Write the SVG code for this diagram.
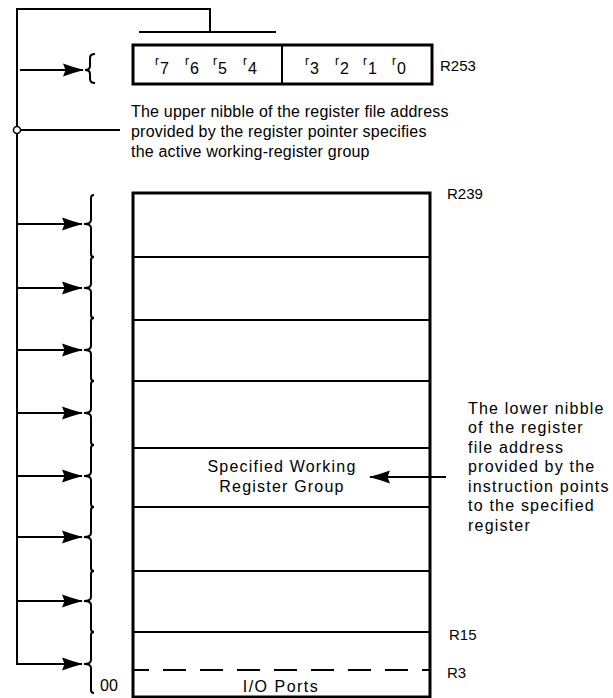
<svg xmlns="http://www.w3.org/2000/svg" width="613" height="698" viewBox="0 0 613 698">
<style>
.t{font-family:"Liberation Sans",Arial,sans-serif;font-size:16px;fill:#000}
.w{letter-spacing:1.2px}
.u{letter-spacing:0.2px}
.lb{font-family:"Liberation Sans",Arial,sans-serif;font-size:15px;fill:#000}
.s{font-family:"Liberation Sans",Arial,sans-serif;font-size:12px;fill:#000}
.ln{stroke:#000;stroke-width:2;fill:none}
.bx{stroke:#000;stroke-width:3;fill:#fff}
.br{stroke:#000;stroke-width:2;fill:none}
</style>
<defs>
<marker id="ah" markerUnits="userSpaceOnUse" markerWidth="24" markerHeight="16" viewBox="-22 -8 24 16" refX="0" refY="0" orient="auto">
<path d="M1,0 Q-9,-2.5 -20,-6.5 L-17.5,0 L-20,6.5 Q-9,2.5 1,0 Z" fill="#000"/>
</marker>
</defs>
<rect width="613" height="698" fill="#fff"/>

<g id="register-pointer">
<rect class="bx" x="133" y="45" width="299" height="39"/>
<line class="ln" x1="282" y1="45" x2="282" y2="84"/>
<text class="s" x="155" y="65">r</text><text class="t" x="160" y="74">7</text>
<text class="s" x="185" y="65">r</text><text class="t" x="190" y="74">6</text>
<text class="s" x="213" y="65">r</text><text class="t" x="218" y="74">5</text>
<text class="s" x="243" y="65">r</text><text class="t" x="248" y="74">4</text>
<text class="s" x="305" y="65">r</text><text class="t" x="310" y="74">3</text>
<text class="s" x="335" y="65">r</text><text class="t" x="340" y="74">2</text>
<text class="s" x="363" y="65">r</text><text class="t" x="368" y="74">1</text>
<text class="s" x="392" y="65">r</text><text class="t" x="397" y="74">0</text>
<text class="lb" x="440" y="71">R253</text>
</g>

<g id="top-brace">
<path class="br" d="M95,54 Q90,54 90,58 L90,66 Q90,70 85,70 Q90,70 90,74 L90,79 Q90,83 95,83" stroke-width="2.4"/>
</g>

<g id="upper-note">
<text class="t u" x="131" y="117">The upper nibble of the register file address</text>
<text class="t u" x="131" y="137">provided by the register pointer specifies</text>
<text class="t u" x="131" y="157">the active working-register group</text>
</g>

<g id="register-file">
<rect class="bx" x="133" y="193" width="297" height="504"/>
<line class="ln" x1="133" y1="257" x2="430" y2="257"/>
<line class="ln" x1="133" y1="320" x2="430" y2="320"/>
<line class="ln" x1="133" y1="381" x2="430" y2="381"/>
<line class="ln" x1="133" y1="448" x2="430" y2="448"/>
<line class="ln" x1="133" y1="507" x2="430" y2="507"/>
<line class="ln" x1="133" y1="571" x2="430" y2="571"/>
<line class="ln" x1="133" y1="632" x2="430" y2="632"/>
<line class="ln" x1="133" y1="670" x2="430" y2="670" stroke-dasharray="23 14" stroke-dashoffset="7"/>
<text class="t w" x="282" y="472" text-anchor="middle">Specified Working</text>
<text class="t w" x="282" y="492" text-anchor="middle">Register Group</text>
<text class="t" x="281" y="692" text-anchor="middle" style="letter-spacing:1.5px">I/O Ports</text>
<text class="t" x="100" y="691">00</text>
<text class="lb" x="447" y="199">R239</text>
<text class="lb" x="449" y="640">R15</text>
<text class="lb" x="447" y="678">R3</text>
</g>

<g id="brace-column">
<path class="br" d="M94,195 Q91,195 91,198 L91,220 Q91,224 84,224 Q91,224 91,228 L91,254 Q91,257 94,257"/>
<path class="br" d="M94,257 Q91,257 91,260 L91,284 Q91,288 84,288 Q91,288 91,292 L91,315 Q91,318 94,318"/>
<path class="br" d="M94,318 Q91,318 91,321 L91,346 Q91,350 84,350 Q91,350 91,354 L91,378 Q91,381 94,381"/>
<path class="br" d="M94,381 Q91,381 91,384 L91,409 Q91,413 84,413 Q91,413 91,417 L91,442 Q91,445 94,445"/>
<path class="br" d="M94,445 Q91,445 91,448 L91,472 Q91,476 84,476 Q91,476 91,480 L91,504 Q91,507 94,507"/>
<path class="br" d="M94,507 Q91,507 91,510 L91,533 Q91,537 84,537 Q91,537 91,541 L91,568 Q91,571 94,571"/>
<path class="br" d="M94,571 Q91,571 91,574 L91,597 Q91,601 84,601 Q91,601 91,605 L91,629 Q91,632 94,632"/>
<path class="br" d="M94,632 Q91,632 91,635 L91,660 Q91,664 84,664 Q91,664 91,668 L91,690 Q91,693 94,693"/>
</g>

<g id="lower-note">
<text class="t w" x="468" y="414">The lower nibble</text>
<text class="t w" x="468" y="433">of the register</text>
<text class="t w" x="468" y="453">file address</text>
<text class="t w" x="468" y="472">provided by the</text>
<text class="t w" x="468" y="492">instruction points</text>
<text class="t w" x="468" y="511">to the specified</text>
<text class="t w" x="468" y="531">register</text>
</g>

<g id="connectors">
<polyline class="ln" points="210,32 210,9 17,9 17,664 82,664" marker-end="url(#ah)"/>
<line class="ln" x1="139" y1="32" x2="276" y2="32"/>
<line class="ln" x1="20" y1="70" x2="83" y2="70" marker-end="url(#ah)"/>
<line class="ln" x1="21" y1="130" x2="120" y2="130"/>
<circle cx="17" cy="130" r="3.5" fill="#fff" stroke="#000" stroke-width="1.5"/>
<line class="ln" x1="17" y1="224" x2="82" y2="224" marker-end="url(#ah)"/>
<line class="ln" x1="17" y1="288" x2="82" y2="288" marker-end="url(#ah)"/>
<line class="ln" x1="17" y1="350" x2="82" y2="350" marker-end="url(#ah)"/>
<line class="ln" x1="17" y1="413" x2="82" y2="413" marker-end="url(#ah)"/>
<line class="ln" x1="17" y1="476" x2="82" y2="476" marker-end="url(#ah)"/>
<line class="ln" x1="17" y1="537" x2="82" y2="537" marker-end="url(#ah)"/>
<line class="ln" x1="17" y1="601" x2="82" y2="601" marker-end="url(#ah)"/>
<line class="ln" x1="446" y1="477" x2="370" y2="477" marker-end="url(#ah)"/>
</g>
</svg>
